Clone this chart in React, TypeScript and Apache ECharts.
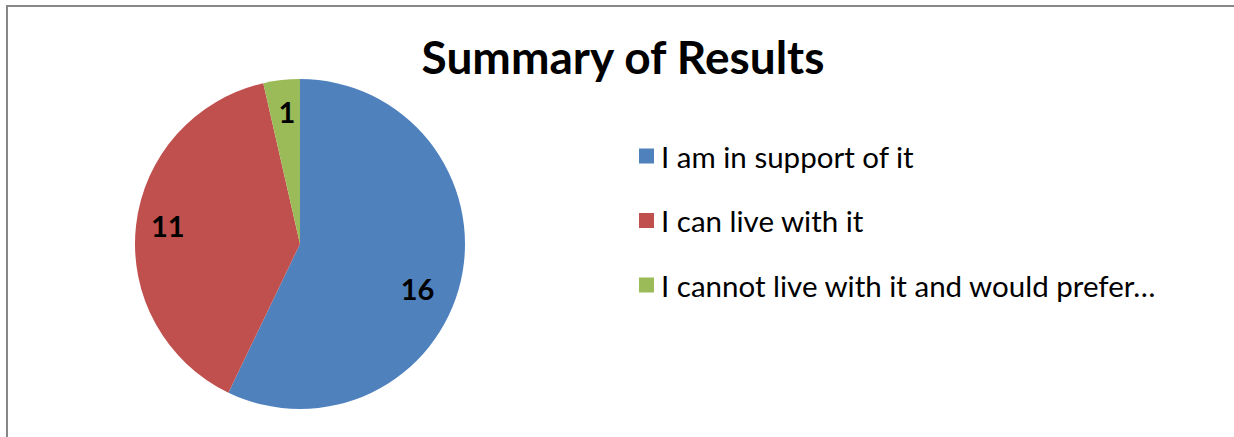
import React, { useEffect, useRef } from "react";
import * as echarts from "echarts";

const titleText = "Summary of Results";
const categories = [
  "I am in support of it",
  "I can live with it",
  "I cannot live with it and would prefer…",
];
const counts = [16, 11, 1];
const colors = ["#4F81BD", "#C0504D", "#9BBB59"];

export default function App() {
  const ref = useRef<HTMLDivElement>(null);
  useEffect(() => {
    if (!ref.current) return;
    const chart = echarts.init(ref.current, null, { renderer: "svg" });
    const mainData = categories.map((name, i) => ({
      name,
      value: counts[i],
      itemStyle: { color: colors[i] },
    }));
    const labelData = categories.map((name, i) => ({
      name,
      value: counts[i],
      label: i === 0 ? { offset: [-14, 14] } : i === 1 ? { offset: [2, -3] } : { offset: [2, 2] },
    }));
    chart.setOption({
      animation: false,
      backgroundColor: "#ffffff",
      title: {
        text: titleText,
        left: 618,
        textAlign: "center",
        top: 27,
        textStyle: {
          fontFamily: "Lato",
          fontWeight: "bold",
          fontSize: 46,
          lineHeight: 48,
          color: "#000000",
        },
      },
      legend: {
        orient: "vertical",
        left: 634,
        top: 136,
        itemWidth: 15,
        itemHeight: 15,
        itemGap: 34.5,
        icon: "rect",
        data: categories,
        selectedMode: false,
        textStyle: {
          fontFamily: "Lato",
          fontSize: 29.5,
          lineHeight: 30,
          color: "#000000",
          padding: [0, 0, 0, 2],
        },
      },
      graphic: [
        {
          type: "rect",
          shape: { x: 7, y: 6, width: 1400, height: 600 },
          style: { fill: "none", stroke: "#878787", lineWidth: 2 },
          silent: true,
        },
      ],
      series: [
        {
          type: "pie",
          center: [300, 244],
          radius: [0, 165],
          startAngle: 90,
          clockwise: true,
          data: mainData,
          label: { show: false },
          labelLine: { show: false },
          silent: true,
        },
        {
          type: "pie",
          center: [300, 244],
          radius: [0, 264],
          startAngle: 90,
          clockwise: true,
          data: labelData,
          itemStyle: { color: "rgba(0,0,0,0)" },
          label: {
            show: true,
            position: "inside",
            formatter: "{c}",
            fontFamily: "Lato",
            fontWeight: "bold",
            fontSize: 29,
            color: "#000000",
          },
          labelLine: { show: false },
          silent: true,
          z: 3,
        },
      ],
    });
    return () => chart.dispose();
  }, []);
  return (
    <div
      ref={ref}
      style={{ position: "fixed", left: 0, top: 0, width: 1234, height: 437 }}
    />
  );
}
